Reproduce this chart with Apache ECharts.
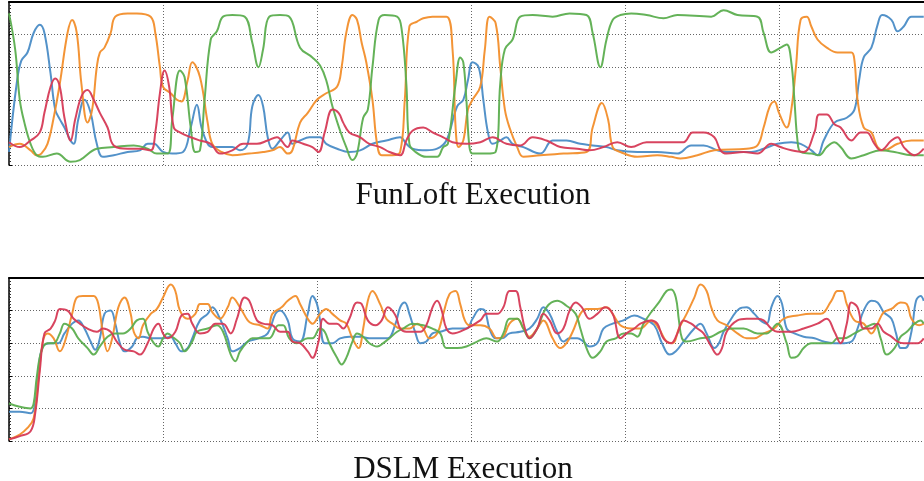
<!DOCTYPE html>
<html>
<head>
<meta charset="utf-8">
<script src="https://cdn.jsdelivr.net/npm/echarts@6/dist/echarts.min.js"></script>
<style>
html,body{margin:0;padding:0;background:#fff;overflow:hidden;width:924px;height:481px;}
#chart{width:933px;height:481px;}
</style>
</head>
<body>
<div id="chart"></div>
<script>
// Panel titles
var panelTitles = ['FunLoft Execution', 'DSLM Execution'];
var seriesNames = ['Core 1', 'Core 2', 'Core 3', 'Core 4'];

// FunLoft execution: [time, load %]
var funloftBlue = [[0,8],[0.5,50],[0.8,64],[1.2,69],[1.6,81],[2.0,86],[2.3,81],[2.7,56],[3.0,34],[3.3,28],[3.6,23],[4.0,15],[4.2,13],[4.5,28],[4.9,40],[5.3,32],[5.7,13],[6.1,5],[6.8,6],[7.7,8],[8.5,9],[9.0,13],[9.4,13],[10.0,8],[10.6,7],[11.3,8],[11.8,23],[12.2,37],[12.5,23],[12.9,13],[13.2,11],[13.9,11],[14.5,11],[15.0,9],[15.5,13],[15.8,36],[16.2,43],[16.5,36],[16.8,17],[17.1,10],[17.6,15],[18.1,20],[18.4,13],[18.9,15],[19.5,17],[20.2,17],[20.6,13],[21.3,10],[22.1,8],[22.8,9],[23.6,13],[24.5,15],[25.4,17],[25.8,13],[26.2,10],[27.1,9],[27.8,10],[28.4,15],[29.1,36],[29.5,40],[29.8,52],[30.1,63],[30.5,60],[30.8,40],[31.1,20],[31.4,13],[31.9,15],[32.3,17],[32.7,13],[33.4,11],[34.5,7],[35.3,15],[36.2,15],[37.1,13],[37.9,12],[38.8,11],[39.5,9],[40.8,8],[42.1,8],[43.4,7],[44.3,12],[45.1,12],[46.0,9],[46.6,8],[48.2,8],[49.0,10],[49.9,13],[50.8,14],[51.4,13],[52.1,9],[52.5,6],[52.9,15],[53.6,26],[54.4,29],[54.9,34],[55.2,52],[55.5,66],[56.0,72],[56.4,86],[56.7,92],[57.3,89],[57.7,82],[58.1,85],[58.6,91],[59.4,91]];
var funloftOrange = [[0,11],[0.7,13],[1.4,9],[1.8,6],[2.1,7],[2.5,13],[2.9,29],[3.3,50],[3.8,81],[4.1,89],[4.4,81],[4.7,50],[5.1,26],[5.4,34],[5.7,60],[5.9,69],[6.2,72],[6.6,81],[6.9,91],[7.7,93],[8.3,93],[9.2,91],[9.5,81],[9.8,60],[10.0,48],[10.5,44],[10.9,40],[11.2,39],[11.6,52],[11.9,63],[12.4,54],[12.9,26],[13.2,13],[13.8,8],[14.5,6],[15.6,7],[16.5,8],[17.1,9],[17.6,11],[18.1,7],[18.4,9],[18.9,26],[19.4,32],[20.0,40],[20.6,44],[21.3,48],[21.6,60],[21.9,81],[22.3,92],[22.6,89],[22.9,75],[23.2,63],[23.6,40],[23.9,13],[24.2,6],[24.9,6],[25.4,8],[25.7,40],[26.0,85],[26.5,88],[26.9,90],[27.5,91],[28.4,91],[28.8,71],[29.0,23],[29.2,11],[29.5,15],[29.8,34],[30.1,40],[30.6,48],[30.9,71],[31.2,91],[31.6,87],[31.9,60],[32.2,34],[32.5,23],[33.0,11],[33.4,5],[34.5,6],[36.0,7],[37.5,8],[37.9,23],[38.5,38],[38.9,28],[39.2,11],[39.7,8],[40.8,5],[42.1,6],[43.0,5],[43.6,4],[44.7,6],[45.8,9],[47.9,10],[48.6,12],[49.0,23],[49.4,36],[49.7,39],[50.0,32],[50.5,23],[50.8,34],[51.1,60],[51.4,89],[51.8,91],[52.1,85],[52.5,77],[53.1,72],[53.8,69],[54.7,69],[54.9,64],[55.1,40],[55.5,23],[56.0,20],[56.4,11],[56.8,9],[57.7,13],[58.6,15],[59.4,15]];
var funloftGreen = [[0,93],[0.4,71],[0.7,40],[1.0,26],[1.4,13],[1.8,6],[2.2,5],[3.1,7],[4.0,2],[4.6,3],[5.7,10],[6.8,11],[8.1,12],[9.0,10],[9.6,7],[10.3,7],[10.6,28],[11.1,58],[11.4,54],[11.8,23],[12.1,8],[12.4,9],[12.7,40],[13.1,77],[13.5,82],[13.9,91],[14.5,92],[15.3,91],[15.8,75],[16.2,60],[16.5,71],[16.9,91],[17.6,92],[18.2,91],[18.9,72],[19.7,66],[20.2,61],[20.6,52],[21.0,36],[21.5,21],[21.9,11],[22.3,3],[22.6,7],[23.0,29],[23.3,34],[23.6,60],[24.0,89],[24.4,92],[25.2,91],[25.5,83],[25.8,50],[26.0,13],[26.4,8],[27.1,5],[27.8,5],[28.2,11],[28.5,13],[29.0,50],[29.3,66],[29.5,63],[29.7,40],[29.9,11],[30.1,7],[31.0,7],[31.6,8],[31.9,50],[32.2,71],[32.7,77],[33.2,91],[34.0,92],[35.3,91],[36.4,93],[37.5,92],[37.9,81],[38.4,60],[38.8,77],[39.2,89],[39.7,92],[40.4,93],[41.4,92],[42.5,90],[43.4,92],[45.6,91],[46.4,95],[47.3,92],[48.6,91],[49.0,81],[49.5,69],[50.1,72],[50.5,74],[50.8,63],[51.0,40],[51.2,15],[51.4,8],[52.1,7],[52.6,6],[53.1,11],[53.6,14],[54.0,11],[54.7,4],[55.5,6],[56.6,9],[57.5,8],[58.6,6],[59.4,6]];
var funloftRed = [[0,14],[0.7,11],[1.4,15],[2.0,20],[2.3,32],[2.7,48],[3.0,53],[3.3,48],[3.6,29],[4.0,15],[4.3,28],[4.7,42],[5.1,46],[5.5,40],[5.9,32],[6.4,23],[6.8,12],[7.7,10],[8.5,10],[9.2,9],[9.5,20],[9.8,44],[10.1,58],[10.4,48],[10.7,23],[11.1,20],[11.8,17],[12.4,15],[13.1,13],[13.7,7],[14.5,9],[15.2,13],[16.1,13],[16.8,15],[17.4,17],[18.1,11],[18.4,15],[19.1,13],[19.7,11],[20.1,8],[20.5,20],[21.0,34],[21.4,32],[21.7,26],[22.1,20],[22.8,17],[23.4,13],[24.1,11],[24.7,8],[25.4,6],[25.8,15],[26.2,21],[26.9,23],[27.5,20],[28.2,17],[28.8,14],[29.7,13],[30.6,14],[31.4,17],[32.3,13],[33.2,12],[34.0,17],[34.9,15],[35.8,11],[36.9,10],[37.7,9],[38.6,11],[39.5,14],[40.4,11],[41.4,14],[43.0,14],[43.8,14],[44.4,20],[45.1,20],[45.8,17],[46.2,9],[46.6,7],[47.7,8],[48.6,7],[49.5,13],[50.1,11],[50.8,9],[51.6,8],[52.3,20],[52.6,31],[53.1,31],[53.6,25],[54.0,23],[54.7,15],[55.3,20],[55.7,20],[56.2,13],[56.6,9],[57.3,15],[57.7,17],[58.1,11],[58.8,6],[59.4,10]];

// DSLM execution: [time, load %]
var dslmBlue = [[0,18],[0.7,18],[1.4,17],[1.7,23],[1.9,43],[2.2,58],[2.7,60],[3.2,60],[3.6,66],[4.1,72],[4.5,74],[4.9,69],[5.3,61],[5.6,56],[5.9,63],[6.2,78],[6.6,80],[6.9,72],[7.2,60],[7.5,55],[8.0,58],[8.3,63],[8.7,64],[9.2,63],[9.6,63],[10.0,63],[10.5,64],[10.8,60],[11.2,55],[11.6,57],[11.9,63],[12.4,74],[12.9,78],[13.2,82],[13.7,75],[14.2,63],[14.5,55],[15.0,57],[15.5,61],[16.2,63],[16.8,66],[17.3,78],[17.6,80],[18.1,74],[18.4,63],[18.9,61],[19.4,78],[19.7,89],[20.0,84],[20.2,74],[20.5,60],[21.0,60],[21.5,63],[22.1,64],[22.8,64],[23.4,63],[24.1,63],[24.6,63],[25.1,72],[25.4,82],[25.7,85],[26.0,78],[26.4,66],[26.7,60],[27.1,61],[27.5,66],[28.0,67],[28.8,69],[29.7,69],[30.1,75],[30.6,81],[30.9,80],[31.2,69],[31.6,63],[32.0,63],[32.5,66],[33.2,67],[33.8,69],[34.3,75],[34.7,82],[35.1,78],[35.6,67],[36.0,61],[36.4,63],[36.9,63],[37.3,61],[37.7,58],[38.2,60],[38.6,69],[39.2,72],[39.9,74],[40.6,77],[41.2,75],[41.9,71],[42.4,60],[42.9,53],[43.3,55],[43.8,61],[44.5,69],[44.9,72],[45.3,66],[45.8,57],[46.1,60],[46.4,67],[46.9,75],[47.4,81],[47.9,82],[48.4,78],[48.8,74],[49.2,72],[49.5,82],[49.9,89],[50.2,84],[50.5,69],[51.0,66],[51.6,64],[52.3,63],[52.9,61],[53.6,60],[54.0,60],[54.7,61],[55.1,69],[55.5,80],[56.0,86],[56.4,85],[56.8,79],[57.3,75],[57.6,66],[57.9,57],[58.2,57],[58.6,67],[58.9,86],[59.2,89],[59.4,86]];
var dslmOrange = [[0,1],[0.7,4],[1.2,8],[1.6,14],[1.9,37],[2.2,61],[2.5,66],[2.9,63],[3.3,55],[3.6,60],[4.1,78],[4.4,88],[4.8,89],[5.5,89],[5.8,84],[6.1,66],[6.4,55],[6.7,63],[7.1,82],[7.5,88],[7.9,78],[8.1,67],[8.4,63],[8.7,71],[9.2,78],[9.6,81],[10.0,88],[10.5,96],[10.8,92],[11.1,80],[11.6,75],[12.1,78],[12.4,84],[12.9,84],[13.2,79],[13.7,75],[14.2,82],[14.5,88],[15.0,82],[15.5,74],[15.8,72],[16.3,71],[16.8,69],[17.1,78],[17.7,82],[18.1,86],[18.6,89],[18.9,84],[19.4,75],[19.7,72],[20.2,78],[20.6,81],[21.0,78],[21.5,74],[21.9,72],[22.3,63],[22.7,57],[23.0,69],[23.3,86],[23.6,92],[24.1,84],[24.5,75],[24.9,72],[25.4,69],[26.0,69],[26.5,72],[26.9,69],[27.3,63],[27.8,66],[28.2,78],[28.6,90],[29.0,92],[29.3,84],[29.6,74],[29.9,71],[30.6,71],[31.2,69],[31.7,63],[32.1,64],[32.5,72],[33.0,75],[33.4,69],[33.8,64],[34.3,69],[34.7,74],[35.3,63],[35.8,57],[36.2,60],[36.6,67],[37.1,78],[37.5,81],[38.2,81],[38.8,82],[39.2,78],[39.7,71],[40.4,69],[41.0,69],[41.7,74],[42.2,69],[42.7,61],[43.1,60],[43.5,69],[44.0,78],[44.5,88],[44.9,96],[45.3,92],[45.6,82],[46.0,74],[46.6,71],[47.3,66],[47.9,63],[48.4,63],[49.0,66],[49.7,69],[50.3,75],[51.2,77],[52.1,78],[52.7,78],[53.4,86],[53.8,92],[54.1,92],[54.4,84],[54.9,74],[55.5,72],[56.0,66],[56.4,72],[56.8,79],[57.3,81],[57.9,85],[58.3,84],[58.6,75],[59.1,71],[59.4,72]];
var dslmGreen = [[0,23],[0.7,21],[1.4,20],[1.6,23],[1.8,39],[2.1,55],[2.5,60],[2.9,60],[3.3,66],[3.6,72],[4.1,69],[4.5,63],[5.1,57],[5.5,53],[5.9,58],[6.4,64],[6.9,66],[7.4,66],[7.9,69],[8.3,74],[8.7,75],[9.0,67],[9.4,60],[9.7,58],[10.0,63],[10.3,66],[10.6,64],[11.1,60],[11.4,55],[11.9,61],[12.2,67],[12.9,69],[13.5,71],[13.9,67],[14.4,53],[14.7,49],[15.0,55],[15.5,61],[15.8,63],[16.5,63],[16.9,63],[17.5,71],[17.8,71],[18.2,63],[18.7,60],[19.4,63],[19.7,63],[20.2,69],[20.5,67],[20.8,60],[21.3,51],[21.6,47],[21.9,51],[22.3,61],[22.6,66],[23.0,64],[23.4,60],[23.9,58],[24.3,60],[24.7,63],[25.2,67],[25.6,69],[26.2,72],[26.9,71],[27.5,69],[28.0,66],[28.4,57],[29.1,57],[29.7,58],[30.4,61],[31.0,63],[31.7,61],[32.1,66],[32.5,75],[33.0,75],[33.4,69],[33.8,63],[34.3,69],[34.9,82],[35.6,86],[36.2,83],[36.8,78],[37.1,69],[37.5,57],[37.9,51],[38.4,55],[38.8,61],[39.4,63],[39.9,66],[40.4,66],[40.8,64],[41.2,72],[41.7,79],[42.2,85],[42.7,92],[43.0,93],[43.3,88],[43.5,74],[43.7,63],[44.0,61],[44.9,63],[45.6,64],[46.2,67],[46.9,69],[47.7,69],[48.6,66],[49.2,66],[49.9,72],[50.5,60],[50.8,51],[51.2,52],[51.6,57],[52.1,60],[52.7,60],[53.4,60],[53.8,63],[54.2,63],[54.9,66],[55.5,69],[56.2,72],[56.6,63],[57.0,53],[57.5,57],[57.9,64],[58.3,67],[58.8,72],[59.2,74],[59.4,72]];
var dslmRed = [[0,1],[0.7,3],[1.4,6],[1.7,17],[2.0,43],[2.3,66],[2.7,69],[3.0,74],[3.3,81],[3.8,80],[4.2,75],[4.6,72],[5.1,69],[5.7,67],[6.1,69],[6.6,67],[7.0,61],[7.5,56],[8.1,55],[8.5,53],[9.0,60],[9.4,69],[9.7,72],[10.0,66],[10.3,63],[10.8,67],[11.2,77],[11.6,78],[11.9,72],[12.4,66],[12.9,67],[13.4,72],[13.9,72],[14.4,66],[14.8,75],[15.3,88],[15.6,86],[16.1,74],[16.5,72],[17.1,71],[17.6,67],[18.1,67],[18.4,61],[18.9,60],[19.4,55],[19.7,51],[20.1,61],[20.4,75],[20.8,72],[21.3,72],[21.7,69],[22.1,75],[22.6,85],[22.9,84],[23.3,74],[23.8,71],[24.2,74],[24.6,82],[25.1,77],[25.4,69],[25.8,67],[26.7,67],[27.1,71],[27.5,82],[27.8,86],[28.1,80],[28.4,69],[28.8,66],[29.7,69],[30.6,74],[31.0,78],[31.7,78],[32.1,82],[32.5,92],[32.9,92],[33.2,82],[33.5,69],[33.8,63],[34.3,69],[34.7,78],[35.1,74],[35.6,66],[36.0,69],[36.4,80],[36.8,85],[37.2,82],[37.7,75],[38.2,78],[38.7,82],[39.2,78],[39.7,63],[40.1,66],[40.6,69],[41.0,72],[41.7,74],[42.1,72],[42.5,63],[43.0,60],[43.4,66],[43.8,74],[44.3,72],[44.7,69],[45.1,66],[45.6,58],[46.0,53],[46.3,57],[46.6,67],[47.3,74],[47.9,75],[48.6,75],[49.0,74],[49.5,69],[49.9,67],[50.8,67],[51.6,69],[52.5,72],[53.1,75],[53.6,67],[54.0,60],[54.4,72],[54.7,85],[55.1,82],[55.5,69],[56.0,69],[56.4,72],[56.8,67],[57.3,64],[57.7,61],[58.1,60],[58.6,60],[59.0,60],[59.4,63]];

var colors = ['#4a8cc6', '#f28e2b', '#5cae4f', '#d63a56'];
var panels = [
  [funloftBlue, funloftOrange, funloftGreen, funloftRed],
  [dslmBlue, dslmOrange, dslmGreen, dslmRed]
];

var grids = [
  {left: 9, right: 0, top: 2, height: 163},
  {left: 9, right: 0, top: 278, height: 163}
];
var dotted = {color: '#666', width: 1, type: [1, 2]};
var xAxes = [], yAxes = [], series = [];
grids.forEach(function (g, i) {
  xAxes.push({
    type: 'value', gridIndex: i, min: 0, max: 60, interval: 10, position: 'bottom',
    axisLine: {show: false}, axisTick: {show: false}, axisLabel: {show: false},
    splitLine: {show: true, lineStyle: dotted}
  });
  xAxes.push({
    type: 'value', gridIndex: i, min: 0, max: 60, interval: 10, position: 'top',
    axisLine: {show: true, onZero: false, lineStyle: {color: '#000', width: 2}},
    axisTick: {show: false}, axisLabel: {show: false}, splitLine: {show: false}
  });
  yAxes.push({
    type: 'value', gridIndex: i, min: 0, max: 100, interval: 20,
    axisLine: {show: true, lineStyle: {color: '#000', width: 1.5}},
    axisTick: {show: true, inside: true, length: 3, lineStyle: {color: '#000'}},
    minorTick: {show: true, splitNumber: 10, length: 2, lineStyle: {color: '#333'}},
    axisLabel: {show: false},
    splitLine: {show: true, lineStyle: dotted}
  });
  panels[i].forEach(function (d, k) {
    series.push({
      type: 'line', name: seriesNames[k], xAxisIndex: i * 2, yAxisIndex: i,
      data: d, smooth: 0.4, symbol: 'none', silent: true,
      lineStyle: {color: colors[k], width: 2, opacity: 0.95},
      z: 2 + k
    });
  });
});

var chart = echarts.init(document.getElementById('chart'), null, {renderer: 'canvas'});
chart.setOption({
  animation: false,
  backgroundColor: '#fff',
  title: [
    {text: panelTitles[0], left: 468, top: 175, textAlign: 'center',
     textStyle: {fontFamily: 'Liberation Serif', fontWeight: 'normal', fontSize: 31, color: '#111'}},
    {text: panelTitles[1], left: 458, top: 449, textAlign: 'center',
     textStyle: {fontFamily: 'Liberation Serif', fontWeight: 'normal', fontSize: 31, color: '#111'}}
  ],
  grid: grids,
  xAxis: xAxes,
  yAxis: yAxes,
  series: series
});
</script>
</body>
</html>
